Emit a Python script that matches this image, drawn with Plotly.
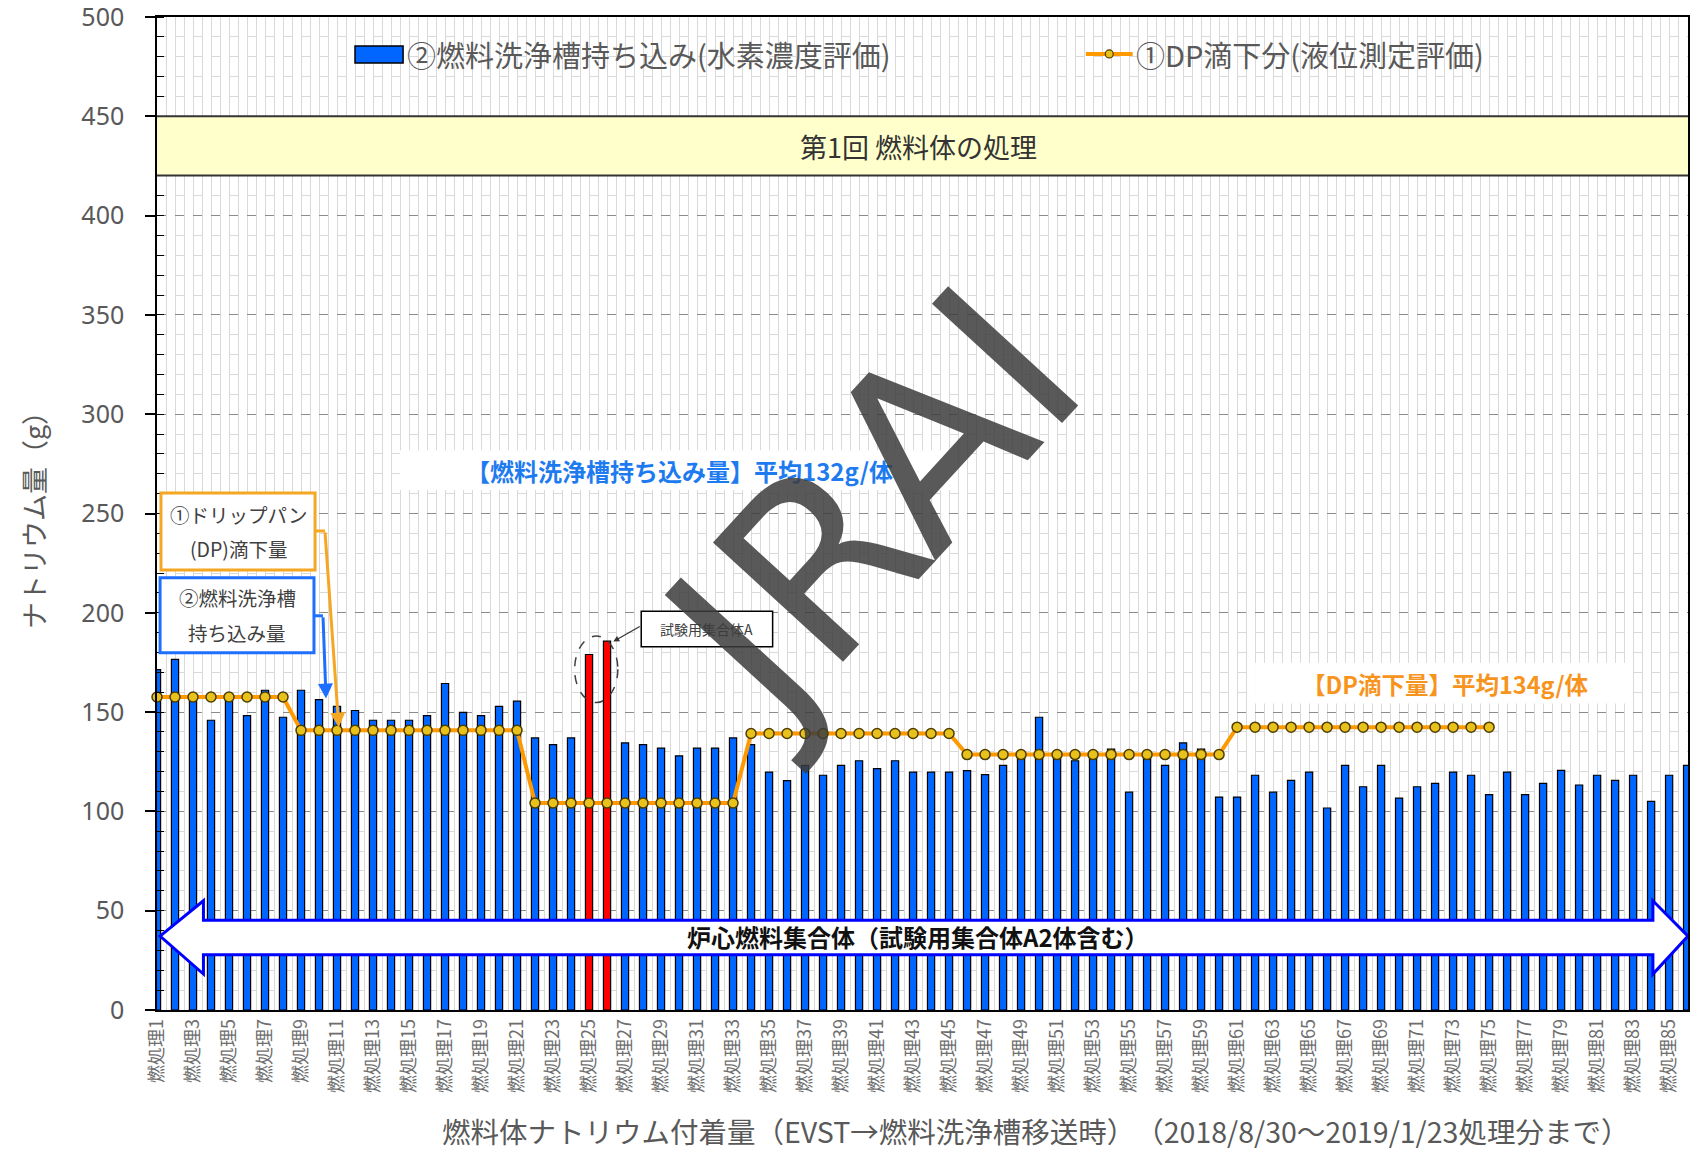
import plotly.graph_objects as go

JP = "Noto Sans CJK JP"

# ---------------- data ----------------
categories = [f"燃処理{i}" for i in range(1, 87)]

# ② 燃料洗浄槽持ち込み (水素濃度評価)  [g]
wash_tank = [171.4, 176.5, 158.0, 145.9, 156.0, 148.2, 161.0, 147.4, 161.0, 156.3,
             152.9, 150.8, 145.9, 145.9, 145.9, 148.2, 164.4, 149.9, 148.2, 152.9,
             155.5, 137.0, 133.6, 137.0, 179.0, 185.7, 134.5, 133.6, 131.9, 128.0,
             131.9, 131.9, 137.0, 133.6, 119.8, 115.5, 123.2, 118.2, 123.2, 125.5,
             121.5, 125.5, 119.8, 119.8, 119.8, 120.5, 118.5, 123.2, 128.0, 147.4,
             127.7, 125.5, 127.7, 131.4, 109.7, 126.4, 123.2, 134.5, 131.4, 107.2,
             107.2, 118.2, 109.7, 115.6, 119.8, 101.7, 123.2, 112.4, 123.2, 106.7,
             112.4, 114.1, 119.8, 118.2, 108.4, 119.8, 108.4, 114.1, 120.7, 113.3,
             118.2, 115.6, 118.2, 105.0, 118.2, 123.2]

# ① DP滴下分 (液位測定評価)  [g]
dp_drip = [157.6, 157.6, 157.6, 157.6, 157.6, 157.6, 157.6, 157.6, 140.8, 140.8,
           140.8, 140.8, 140.8, 140.8, 140.8, 140.8, 140.8, 140.8, 140.8, 140.8,
           140.8, 104.2, 104.2, 104.2, 104.2, 104.2, 104.2, 104.2, 104.2, 104.2,
           104.2, 104.2, 104.2, 139.2, 139.2, 139.2, 139.2, 139.2, 139.2, 139.2,
           139.2, 139.2, 139.2, 139.2, 139.2, 128.6, 128.6, 128.6, 128.6, 128.6,
           128.6, 128.6, 128.6, 128.6, 128.6, 128.6, 128.6, 128.6, 128.6, 128.6,
           142.4, 142.4, 142.4, 142.4, 142.4, 142.4, 142.4, 142.4, 142.4, 142.4,
           142.4, 142.4, 142.4, 142.4, 142.4, None, None, None, None, None,
           None, None, None, None, None, None]

test_assembly_ids = [25, 26]   # 試験用集合体A

series_names = ["②燃料洗浄槽持ち込み(水素濃度評価)", "①DP滴下分(液位測定評価)"]
y_ticks = [0, 50, 100, 150, 200, 250, 300, 350, 400, 450, 500]

# ---------------- styling ----------------
BLUE = "#0066FF"
RED = "#FF0000"
ORANGE = "#FF9900"
GRAY_TXT = "#595959"

x_pos = list(range(1, len(categories) + 1))
bar_colors = [RED if c in test_assembly_ids else BLUE for c in x_pos]

fig = go.Figure()
fig.add_trace(go.Bar(
    x=x_pos, y=wash_tank, width=0.4, name=series_names[0],
    marker=dict(color=bar_colors, line=dict(color="#000000", width=1.2)),
    showlegend=False,
))
fig.add_trace(go.Scatter(
    x=x_pos, y=dp_drip, mode="lines+markers", name=series_names[1],
    line=dict(color=ORANGE, width=4),
    marker=dict(size=10, color="#E8C21A", line=dict(color="#4D3D00", width=1.5)),
    connectgaps=False, showlegend=False, cliponaxis=False,
))

X_MAX = 86.05
shapes = []
annotations = []

# --- header band ---
shapes.append(dict(type="rect", xref="paper", yref="y", x0=0, x1=1, y0=420.2, y1=450,
                   fillcolor="#FFFFCC", line=dict(width=0), layer="above"))
for yy in (450, 420.2):
    shapes.append(dict(type="line", xref="paper", yref="y", x0=0, x1=1, y0=yy, y1=yy,
                       line=dict(color="#333333", width=2), layer="above"))
annotations.append(dict(x=43.3, y=434.7, xref="x", yref="y", text="第1回 燃料体の処理",
                        showarrow=False, font=dict(family=JP, size=27, color="#333333")))

# --- manual legend ---
shapes.append(dict(type="rect", xref="x", yref="y", x0=12.0, x1=14.67, y0=476.9, y1=485.4,
                   fillcolor=BLUE, line=dict(color="#000000", width=1.5), layer="above"))
annotations.append(dict(x=14.8, y=481.4, xref="x", yref="y", text=series_names[0],
                        xanchor="left", showarrow=False,
                        font=dict(family=JP, size=29, color=GRAY_TXT)))
shapes.append(dict(type="line", xref="x", yref="y", x0=52.6, x1=55.2, y0=481.4, y1=481.4,
                   line=dict(color=ORANGE, width=4), layer="above"))
shapes.append(dict(type="circle", xref="x", yref="y", x0=53.68, x1=54.12, y0=479.4, y1=483.4,
                   fillcolor="#E8C21A", line=dict(color="#4D3D00", width=1.2), layer="above"))
annotations.append(dict(x=55.3, y=481.4, xref="x", yref="y", text=series_names[1],
                        xanchor="left", showarrow=False,
                        font=dict(family=JP, size=29, color=GRAY_TXT)))

# --- average labels with white boxes ---
shapes.append(dict(type="rect", xref="x", yref="y", x0=14.5, x1=45.5, y0=261.8, y1=281.9,
                   fillcolor="white", line=dict(width=0), layer="above"))
annotations.append(dict(x=30.05, y=271.9, xref="x", yref="y",
                        text="<b>【燃料洗浄槽持ち込み量】平均132g/体</b>", showarrow=False,
                        font=dict(family=JP, size=24, color="#1E7BEF")))
shapes.append(dict(type="rect", xref="x", yref="y", x0=62.0, x1=82.8, y0=154.3, y1=174.9,
                   fillcolor="white", line=dict(width=0), layer="above"))
annotations.append(dict(x=72.6, y=164.3, xref="x", yref="y",
                        text="<b>【DP滴下量】平均134g/体</b>", showarrow=False,
                        font=dict(family=JP, size=23.5, color="#F7941D")))

# --- explanation boxes on the left ---
BOX_FONT = dict(family=JP, size=19.5, color="#404040")
shapes.append(dict(type="rect", xref="x", yref="y", x0=1.22, x1=9.78, y0=221.6, y1=260.3,
                   fillcolor="white", line=dict(color="#F5A623", width=3), layer="above"))
annotations.append(dict(x=5.5, y=249.7, xref="x", yref="y", text="①ドリップパン", showarrow=False,
                        font=BOX_FONT))
annotations.append(dict(x=5.5, y=232.2, xref="x", yref="y", text="(DP)滴下量", showarrow=False,
                        font=BOX_FONT))
shapes.append(dict(type="rect", xref="x", yref="y", x0=1.17, x1=9.72, y0=179.9, y1=217.6,
                   fillcolor="white", line=dict(color="#1E6FFF", width=3), layer="above"))
annotations.append(dict(x=5.45, y=207.5, xref="x", yref="y", text="②燃料洗浄槽", showarrow=False,
                        font=BOX_FONT))
annotations.append(dict(x=5.45, y=190.0, xref="x", yref="y", text="持ち込み量", showarrow=False,
                        font=BOX_FONT))
# connectors
shapes.append(dict(type="line", xref="x", yref="y", x0=9.78, x1=10.33, y0=241.2, y1=241.2,
                   line=dict(color="#F5A623", width=3), layer="above"))
annotations.append(dict(x=11.1, y=142.2, ax=10.33, ay=241.2, xref="x", yref="y",
                        axref="x", ayref="y", text="", showarrow=True, arrowhead=2,
                        arrowsize=1, arrowwidth=3, arrowcolor="#F5A623", standoff=0))
shapes.append(dict(type="line", xref="x", yref="y", x0=9.72, x1=10.22, y0=198.5, y1=198.5,
                   line=dict(color="#1E6FFF", width=3), layer="above"))
annotations.append(dict(x=10.39, y=156.8, ax=10.22, ay=198.5, xref="x", yref="y",
                        axref="x", ayref="y", text="", showarrow=True, arrowhead=2,
                        arrowsize=1, arrowwidth=3, arrowcolor="#1E6FFF", standoff=0))

# --- test assembly A callout ---
shapes.append(dict(type="circle", xref="x", yref="y", x0=24.2, x1=26.6, y0=154.8, y1=188.3,
                   line=dict(color="#404040", width=1.5, dash="dash"), layer="above"))
shapes.append(dict(type="rect", xref="x", yref="y", x0=27.9, x1=35.2, y0=182.9, y1=200.8,
                   fillcolor="white", line=dict(color="#000000", width=1.5), layer="above"))
annotations.append(dict(x=31.55, y=191.9, xref="x", yref="y", text="試験用集合体A", showarrow=False,
                        font=dict(family=JP, size=14, color="#404040")))
annotations.append(dict(x=26.35, y=185.5, ax=27.9, ay=193.5, xref="x", yref="y",
                        axref="x", ayref="y", text="", showarrow=True, arrowhead=2,
                        arrowsize=1, arrowwidth=1.2, arrowcolor="#333333", standoff=0))

# --- double block arrow at the bottom ---
lt, hb_l, hb_r, rt = 1.17, 3.58, 84.1, X_MAX
ymid, hy0, hy1, by0, by1 = 37.2, 18.1, 55.0, 27.8, 45.2
arrow_path = (f"M {lt},{ymid} L {hb_l},{hy1} L {hb_l},{by1} L {hb_r},{by1} L {hb_r},{hy1} "
              f"L {rt},{ymid} L {hb_r},{hy0} L {hb_r},{by0} L {hb_l},{by0} L {hb_l},{hy0} Z")
shapes.append(dict(type="path", xref="x", yref="y", path=arrow_path, fillcolor="white",
                   line=dict(color="#0000FF", width=3), layer="above"))
annotations.append(dict(x=43.3, y=37.2, xref="x", yref="y",
                        text="<b>炉心燃料集合体（試験用集合体A2体含む）</b>", showarrow=False,
                        font=dict(family=JP, size=24, color="#111111")))

# --- x axis title (offset to the right as in the source) ---
annotations.append(dict(x=0.574, y=-0.1216, xref="paper", yref="paper",
                        xanchor="center", yanchor="middle",
                        text="燃料体ナトリウム付着量（EVST→燃料洗浄槽移送時）　（2018/8/30～2019/1/23処理分まで）",
                        showarrow=False, font=dict(family=JP, size=28.5, color=GRAY_TXT)))

# --- watermark ---
annotations.append(dict(x=40.6, y=253, xref="x", yref="y", text="JRAI", showarrow=False,
                        textangle=-47.5,
                        font=dict(family="DejaVu Sans", size=242, color="rgba(60,60,60,0.85)")))

fig.update_layout(
    width=1697, height=1152,
    margin=dict(l=157, r=9, t=17, b=142, autoexpand=False),
    plot_bgcolor="white", paper_bgcolor="white",
    showlegend=False,
    shapes=shapes, annotations=annotations,
    font=dict(family=JP, color=GRAY_TXT),
)
fig.update_xaxes(
    range=[1, X_MAX], tickmode="array", tickvals=x_pos[::2], ticktext=categories[::2],
    tickangle=-90, tickfont=dict(family=JP, size=18, color="#6E6E6E"),
    showgrid=True, gridcolor="#D9D9D9", gridwidth=1,
    minor=dict(tickmode="linear", tick0=0.5, dtick=0.5, showgrid=True,
               gridcolor="#D9D9D9", gridwidth=1),
    showline=True, linecolor="#000000", linewidth=1.5, mirror=True,
    ticks="", zeroline=False, automargin=False,
)
fig.update_yaxes(
    range=[0, 500], tickmode="array", tickvals=y_ticks,
    showgrid=True, gridcolor="#8C8C8C", griddash="dash", gridwidth=1,
    ticks="outside", ticklen=10, tickcolor="#000000", tickwidth=1.5,
    minor=dict(tickmode="linear", tick0=0, dtick=10, showgrid=True, gridcolor="#D9D9D9", gridwidth=1,
               ticks="inside", ticklen=7, tickcolor="#000000", tickwidth=1.2),
    showline=True, linecolor="#000000", linewidth=1.5, mirror=True, zeroline=False,
    tickfont=dict(family="Noto Sans", size=25, color=GRAY_TXT),
    ticklabelstandoff=16, ticklabeloverflow="allow", automargin=False,
    title=dict(text="ナトリウム量（g）", font=dict(family=JP, size=27, color=GRAY_TXT), standoff=28),
)

fig.write_html("out.html", post_script="document.body.style.margin='0px';",
               config={"displayModeBar": False})
